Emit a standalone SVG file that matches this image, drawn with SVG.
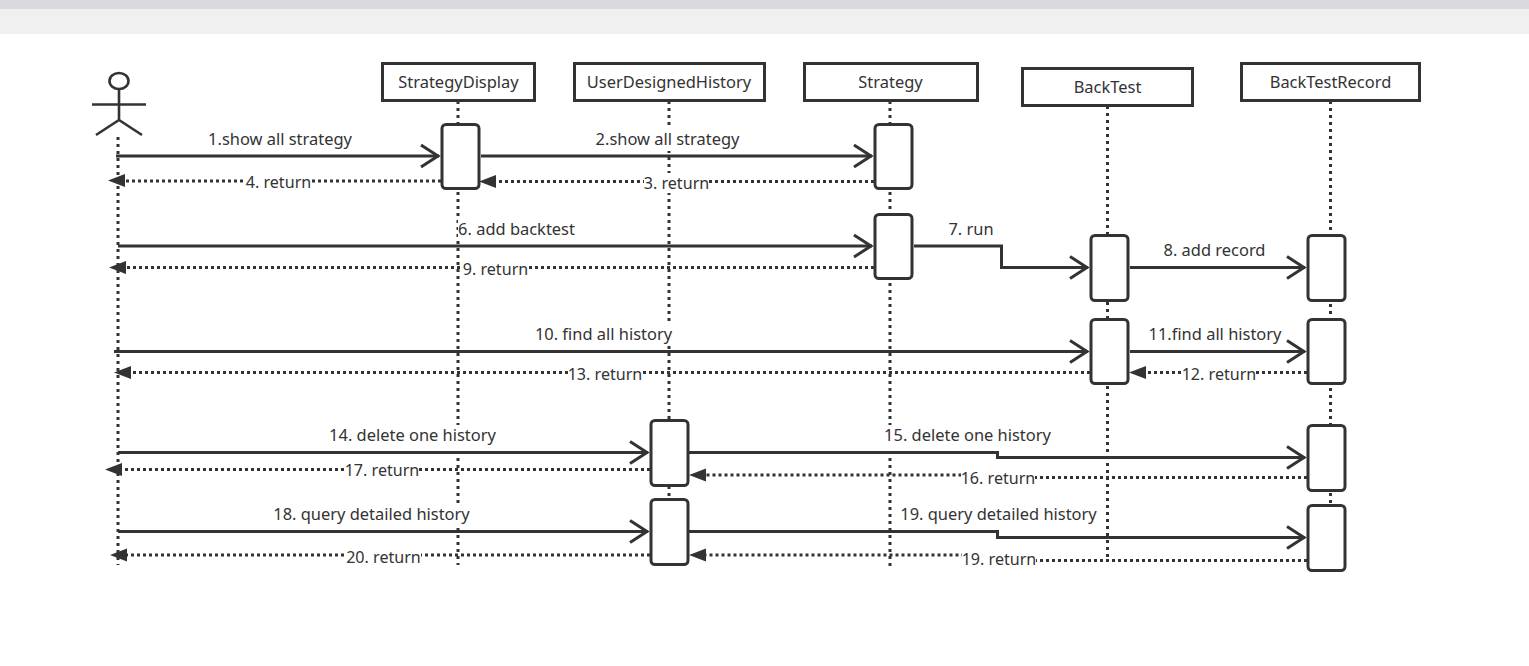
<svg xmlns="http://www.w3.org/2000/svg" width="1529" height="666" viewBox="0 0 1529 666">
<style>
text{font-family:"Noto Sans","Open Sans","Liberation Sans",sans-serif;font-size:16.45px;fill:#333;text-anchor:middle}
text.r{font-size:16.1px}
.box{fill:#fff;stroke:#333;stroke-width:3}
.act{fill:#fff;stroke:#333;stroke-width:3}
.life{fill:none;stroke:#333;stroke-width:3;stroke-dasharray:3 4}
.msg{fill:none;stroke:#333;stroke-width:3;marker-end:url(#open)}
.ret{fill:none;stroke:#333;stroke-width:3;stroke-dasharray:3 3}
.head{fill:#333;stroke:none}
.bg{fill:#fff}
.actor{fill:none;stroke:#333;stroke-width:2.600}
</style>
<defs>
<marker id="open" markerUnits="userSpaceOnUse" markerWidth="24" markerHeight="28" refX="19" refY="14" orient="auto">
<path d="M1 3 L18 14 L1 25" fill="none" stroke="#333" stroke-width="3"/>
</marker>
</defs>
<rect x="0" y="0" width="1529" height="666" fill="#fff"/>
<rect x="0" y="0" width="1529" height="9" fill="#d9dadf"/>
<rect x="0" y="9" width="1529" height="25" fill="#f0f0f0"/>
<g id="lifelines">
<path class="life" d="M118 137V565"/>
<path class="life" d="M458 101V565"/>
<path class="life" d="M669 101V568"/>
<path class="life" d="M890 101V568"/>
<path class="life" d="M1107.500 106V560"/>
<path class="life" d="M1330.500 101V570"/>
</g>
<g id="actor">
<ellipse class="actor" cx="119" cy="81" rx="9.500" ry="8"/>
<path class="actor" d="M119 89V120M92 104.500H146M96 135L119 120L142 135"/>
</g>
<g id="StrategyDisplay"><rect class="box" x="382.500" y="63.500" width="152" height="37"/><text x="458.500" y="88">StrategyDisplay</text></g>
<g id="UserDesignedHistory"><rect class="box" x="574.500" y="63.500" width="190" height="37"/><text x="669" y="88">UserDesignedHistory</text></g>
<g id="Strategy"><rect class="box" x="804.500" y="63.500" width="173" height="37"/><text x="890.500" y="88">Strategy</text></g>
<g id="BackTest"><rect class="box" x="1022.500" y="68.500" width="170" height="37"/><text x="1107.500" y="93">BackTest</text></g>
<g id="BackTestRecord"><rect class="box" x="1241.500" y="63.500" width="178" height="37"/><text x="1330.500" y="88">BackTestRecord</text></g>
<g id="activations">
<rect class="act" x="442" y="124.500" width="37" height="64" rx="4"/>
<rect class="act" x="875" y="124.500" width="37" height="64" rx="4"/>
<rect class="act" x="875" y="214.500" width="37" height="64" rx="4"/>
<rect class="act" x="1091" y="235.500" width="37" height="65" rx="4"/>
<rect class="act" x="1308" y="235.500" width="37" height="65" rx="4"/>
<rect class="act" x="1091" y="319.500" width="37" height="64" rx="4"/>
<rect class="act" x="1308" y="319.500" width="37" height="64" rx="4"/>
<rect class="act" x="651" y="420.500" width="37" height="65" rx="4"/>
<rect class="act" x="1308" y="425.500" width="37" height="65" rx="4"/>
<rect class="act" x="651" y="499.500" width="37" height="65" rx="4"/>
<rect class="act" x="1308" y="505.500" width="37" height="65" rx="4"/>
</g>
<g id="connectors">
<path class="msg" d="M116 156H439"/>
<path class="msg" d="M481 156H872"/>
<path class="ret" d="M441 181H124"/><path class="head" d="M108 180.500L125 174V187Z"/>
<path class="ret" d="M874 181.500H495"/><path class="head" d="M479 181.500L496 175V188Z"/>
<path class="msg" d="M118 246H872"/>
<path class="ret" d="M874 267.500H125"/><path class="head" d="M109 267.500L126 261V274Z"/>
<path class="msg" d="M914 246H1001.500V267.500H1088"/>
<path class="msg" d="M1130 267.500H1305"/>
<path class="msg" d="M114 351.500H1088"/>
<path class="msg" d="M1130 351.500H1305"/>
<path class="ret" d="M1090 372.500H130"/><path class="head" d="M114 372.500L131 366V379Z"/>
<path class="ret" d="M1307 372.500H1146"/><path class="head" d="M1129 372.500L1146 366V379Z"/>
<path class="msg" d="M118 452.500H648"/>
<path class="msg" d="M689 452.500H997.500V457.500H1305"/>
<path class="ret" d="M650 469.500H122"/><path class="head" d="M105 469.500L122 463V476Z"/>
<path class="ret" d="M1307 477.500H1000V475H705"/><path class="head" d="M689 475L706 468.500V481.500Z"/>
<path class="msg" d="M118 531.500H648"/>
<path class="msg" d="M689 531.500H997.500V537.500H1305"/>
<path class="ret" d="M650 555H126"/><path class="head" d="M110 555L127 548.500V561.500Z"/>
<path class="ret" d="M1307 560.500H1000V555H705"/><path class="head" d="M689 555L706 548.500V561.500Z"/>
</g>
<g id="labels">
<rect class="bg" x="208" y="129" width="144" height="22"/><text x="280" y="145">1.show all strategy</text>
<rect class="bg" x="595" y="129" width="145" height="22"/><text x="667.500" y="145">2.show all strategy</text>
<rect class="bg" x="644" y="173" width="65" height="20"/><text class="r" x="676.500" y="188.500">3. return</text>
<rect class="bg" x="246" y="172" width="65" height="20"/><text class="r" x="278.500" y="187.500">4. return</text>
<rect class="bg" x="458" y="219" width="117" height="22"/><text x="516.500" y="235">6. add backtest</text>
<rect class="bg" x="949" y="219" width="44" height="22"/><text x="971" y="235">7. run</text>
<rect class="bg" x="1163" y="240" width="103" height="22"/><text x="1214.500" y="256">8. add record</text>
<rect class="bg" x="463" y="259" width="65" height="20"/><text class="r" x="495.500" y="274.500">9. return</text>
<rect class="bg" x="534" y="324" width="139" height="22"/><text x="603.500" y="340">10. find all history</text>
<rect class="bg" x="1148" y="324" width="134" height="22"/><text x="1215" y="340">11.find all history</text>
<rect class="bg" x="1182" y="364" width="74" height="20"/><text class="r" x="1219" y="379.500">12. return</text>
<rect class="bg" x="568" y="364" width="74" height="20"/><text class="r" x="605" y="379.500">13. return</text>
<rect class="bg" x="328" y="425" width="169" height="22"/><text x="412.500" y="441">14. delete one history</text>
<rect class="bg" x="883" y="425" width="169" height="22"/><text x="967.500" y="441">15. delete one history</text>
<rect class="bg" x="961" y="469" width="74" height="20"/><text class="r" x="998" y="484">16. return</text>
<rect class="bg" x="345" y="461" width="74" height="20"/><text class="r" x="382" y="476">17. return</text>
<rect class="bg" x="272" y="504" width="199" height="22"/><text x="371.500" y="520">18. query detailed history</text>
<rect class="bg" x="899" y="504" width="199" height="22"/><text x="998.500" y="520">19. query detailed history</text>
<rect class="bg" x="962" y="550" width="74" height="20"/><text class="r" x="999" y="565">19. return</text>
<rect class="bg" x="346" y="547" width="75" height="20"/><text class="r" x="383.500" y="563">20. return</text>
</g>
</svg>
